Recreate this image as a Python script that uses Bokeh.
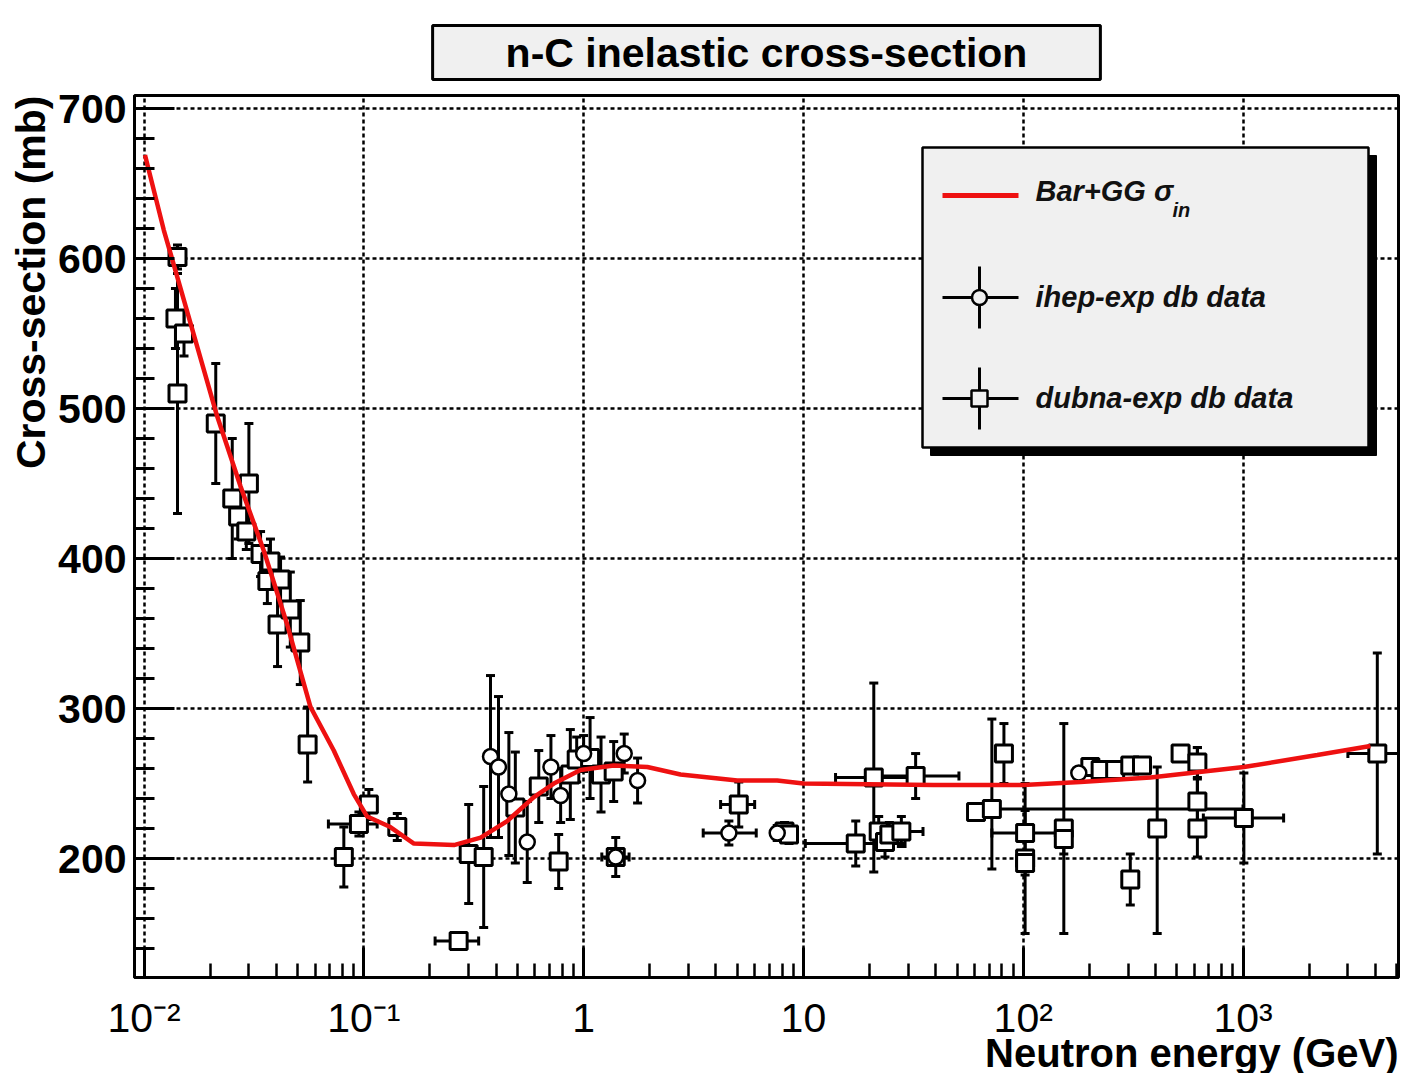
import math

from bokeh.embed import file_html
from bokeh.models import FixedTicker, Label, Range1d, SingleIntervalTicker, Title
from bokeh.plotting import figure
from bokeh.resources import INLINE

# ---------------------------------------------------------------- data
# Bar+GG inelastic n-C cross-section (energy in GeV, sigma in mb)
curve_energy = [0.0101, 0.0123, 0.0139, 0.0215, 0.0275, 0.0351, 0.0448, 0.0572, 0.073, 0.090,
                0.1036, 0.132, 0.169, 0.257, 0.340, 0.449, 0.594, 0.732, 0.968, 1.37,
                1.95, 2.76, 5.0, 7.6, 10.0, 39.0, 100.0, 182.0, 379.0, 1009.0, 2177.0, 3800.0]
curve_sigma = [669, 619, 592, 495, 448, 405, 356, 301, 272, 243,
               228, 221, 210, 209, 214, 225, 241, 250, 259, 262,
               261, 256, 252, 252, 250, 249, 249, 251, 254, 261, 269, 275]

# ihep-exp database points
ihep_energy = [0.377, 0.41, 0.457, 0.554, 0.71, 0.786, 1.0, 1.53, 1.76, 1.40, 4.58, 7.6, 179.0]
ihep_sigma = [268, 261, 243, 211, 261, 242, 270, 270, 252, 201, 217, 217, 257]
ihep_err_down = [54, 47, 41, 27, 21, 18, 12, 13, 15, 0, 8, 5, 0]
ihep_err_up = [54, 47, 41, 27, 21, 18, 12, 13, 15, 0, 8, 5, 0]
# energy bins (horizontal bars): point index, low edge, high edge
ihep_bin_index = [10]
ihep_bin_lo = [3.5]
ihep_bin_hi = [6.1]

# dubna-exp database points
dubna_energy = [0.0142, 0.0139, 0.0152, 0.0142, 0.0212, 0.0252, 0.0300, 0.0268, 0.0292, 0.0339,
                0.0376, 0.0364, 0.0418, 0.0405, 0.0463, 0.0514, 0.0555, 0.0811, 0.0950, 0.1054,
                0.142, 0.300, 0.270, 0.351, 0.489, 0.625, 0.770, 0.87, 0.93, 1.07,
                1.20, 1.37, 1.40, 5.08, 8.2, 8.6, 17.3, 20.9, 32.4, 22.0,
                23.5, 24.6, 27.9, 61.0, 72.0, 81.7, 102.0, 102.0, 102.0, 153.0,
                153.0, 202.0, 225.0, 262.0, 307.0, 347.0, 307.0, 407.0, 520.0, 620.0,
                620.0, 620.0, 1009.0, 4083.0]
dubna_sigma = [601, 560, 550, 510, 490, 440, 450, 428, 418, 403,
               398, 385, 386, 356, 366, 344, 276, 201, 223, 236,
               221, 203, 145, 201, 234, 248, 198, 256, 266, 267,
               256, 258, 201, 236, 218, 216, 210, 254, 255, 218,
               211, 216, 218, 231, 233, 270, 217, 200, 197, 220,
               213, 261, 259, 259, 262, 262, 186, 220, 270, 264,
               238, 220, 227, 270]
dubna_err_down = [8, 20, 15, 80, 40, 40, 40, 15, 12, 15,
                  15, 15, 15, 28, 25, 28, 25, 20, 8, 10,
                  9, 33, 4, 47, 37, 24, 18, 30, 15, 27,
                  25, 20, 13, 15, 6, 6, 15, 63, 15, 10,
                  10, 8, 10, 0, 40, 20, 15, 50, 8, 70,
                  10, 4, 4, 0, 0, 0, 17, 70, 0, 10,
                  15, 19, 30, 67]
dubna_err_up = [8, 20, 15, 80, 40, 40, 40, 15, 12, 15,
                15, 15, 15, 28, 25, 28, 25, 20, 8, 10,
                9, 33, 4, 47, 37, 24, 18, 30, 15, 27,
                25, 20, 13, 15, 6, 6, 15, 63, 15, 10,
                10, 8, 10, 0, 60, 20, 15, 50, 8, 70,
                10, 4, 4, 0, 0, 0, 17, 41, 0, 10,
                15, 54, 30, 67]
dubna_bin_index = [18, 22, 32, 33, 36, 37, 38, 42, 44, 46, 62, 63]
dubna_bin_lo = [0.069, 0.211, 1.21, 4.2, 10.2, 14.0, 21.0, 21.0, 66.0, 72.0, 660.0, 3000.0]
dubna_bin_hi = [0.115, 0.333, 1.61, 6.0, 29.0, 31.0, 51.0, 35.0, 1000.0, 153.0, 1530.0, 6000.0]

x_tick_values = [0.01, 0.1, 1, 10, 100, 1000]
x_tick_labels = ["10\u207b\u00b2", "10\u207b\u00b9", "1", "10", "10\u00b2", "10\u00b3"]

# ---------------------------------------------------------------- layout
W, H = 1404, 1073
FL, FR, FT, FB = 134, 1398, 95, 977          # plot frame edges (px)
X_MIN, X_MAX = 0.00905, 5098.0
Y_MIN, Y_MAX = 120.7, 708.7

LX0, LX1 = math.log10(X_MIN), math.log10(X_MAX)


def xd(px):
    """canvas x pixel -> energy"""
    return 10 ** (LX0 + (px - FL) / (FR - FL) * (LX1 - LX0))


def yd(py):
    """canvas y pixel -> cross-section"""
    return Y_MAX - (py - FT) / (FB - FT) * (Y_MAX - Y_MIN)


SANS = "Liberation Sans"
RED = "#ee1111"

p = figure(width=W, height=H, x_axis_type="log",
           x_range=Range1d(X_MIN, X_MAX), y_range=Range1d(Y_MIN, Y_MAX),
           output_backend="svg", toolbar_location=None,
           min_border_left=FL, min_border_right=W - FR,
           min_border_top=FT, min_border_bottom=H - FB)
p.background_fill_color = "white"
p.border_fill_color = "white"
p.outline_line_color = "black"
p.outline_line_width = 3

# title in a framed box
p.title.text = "n-C inelastic cross-section"
p.title.align = "center"
p.title.offset = -5
p.title.standoff = 32
p.title.text_font = SANS
p.title.text_font_style = "bold"
p.title.text_font_size = "41px"
p.title.text_color = "black"
p.title.background_fill_color = "#f0f0f0"
p.title.border_line_color = "black"
p.title.border_line_width = 3
p.title.padding = dict(left=73, right=73, top=4, bottom=4)

# axes
minor = [m * 10 ** k for k in range(-3, 4) for m in range(2, 10) if X_MIN < m * 10 ** k < X_MAX]
p.xaxis.ticker = FixedTicker(ticks=x_tick_values, minor_ticks=minor)
p.xaxis.major_label_overrides = dict(zip(x_tick_values, x_tick_labels))
p.xaxis.major_label_text_font = SANS
p.xaxis.major_label_text_font_size = "41px"
p.xaxis.major_label_text_color = "black"
p.xaxis.major_label_standoff = 17
p.xaxis.axis_line_width = 3
p.xaxis.major_tick_in = 30
p.xaxis.major_tick_out = 0
p.xaxis.minor_tick_in = 14
p.xaxis.minor_tick_out = 0
p.xaxis.major_tick_line_width = 3
p.xaxis.minor_tick_line_width = 2.5

p.yaxis.ticker = SingleIntervalTicker(interval=100, num_minor_ticks=5)
p.yaxis.axis_line_width = 3
p.yaxis.major_tick_in = 40
p.yaxis.major_tick_out = 0
p.yaxis.minor_tick_in = 20
p.yaxis.minor_tick_out = 0
p.yaxis.major_tick_line_width = 3
p.yaxis.minor_tick_line_width = 3
p.yaxis.major_label_text_font = SANS
p.yaxis.major_label_text_font_style = "bold"
p.yaxis.major_label_text_font_size = "41px"
p.yaxis.major_label_text_color = "black"
p.yaxis.major_label_standoff = 8

# axis titles, pushed to the far end of each axis
p.add_layout(Title(text="Neutron energy (GeV)", align="right", standoff=-30,
                   text_font=SANS, text_font_style="bold", text_font_size="40px",
                   text_color="black"), "below")
p.add_layout(Title(text="Cross-section (mb)", align="right", standoff=4,
                   text_font=SANS, text_font_style="bold", text_font_size="41px",
                   text_color="black"), "left")

for g in (p.xgrid, p.ygrid):
    g.grid_line_color = "black"
    g.grid_line_width = 2.5
    g.grid_line_dash = "4 3"


# ---------------------------------------------------------------- data marks
def error_bars(energy, sigma, down, up, bin_index, bin_lo, bin_hi):
    keep = [i for i in range(len(energy)) if down[i] or up[i]]
    ex = [energy[i] for i in keep]
    lo = [sigma[i] - down[i] for i in keep]
    hi = [sigma[i] + up[i] for i in keep]
    p.segment(x0=ex, y0=lo, x1=ex, y1=hi, line_color="black", line_width=3)
    p.scatter(x=ex + ex, y=lo + hi, marker="dash", size=9, line_color="black", line_width=3)
    hy = [sigma[i] for i in bin_index]
    p.segment(x0=bin_lo, y0=hy, x1=bin_hi, y1=hy, line_color="black", line_width=3)
    p.scatter(x=bin_lo + bin_hi, y=hy + hy, marker="dash", angle=math.pi / 2, size=9,
              line_color="black", line_width=3)


error_bars(dubna_energy, dubna_sigma, dubna_err_down, dubna_err_up,
           dubna_bin_index, dubna_bin_lo, dubna_bin_hi)
error_bars(ihep_energy, ihep_sigma, ihep_err_down, ihep_err_up,
           ihep_bin_index, ihep_bin_lo, ihep_bin_hi)

p.scatter(x=dubna_energy, y=dubna_sigma, marker="square", size=17,
          fill_color="white", line_color="black", line_width=3)
p.scatter(x=ihep_energy, y=ihep_sigma, marker="circle", size=15,
          fill_color="white", line_color="black", line_width=2.5)

p.line(curve_energy, curve_sigma, line_color=RED, line_width=4.5)

# ---------------------------------------------------------------- legend box
p.quad(left=xd(930), right=xd(1376), top=yd(155), bottom=yd(455),
       fill_color="black", line_color="black")
p.quad(left=xd(922), right=xd(1368), top=yd(147), bottom=yd(447),
       fill_color="#f0f0f0", line_color="black", line_width=2.5)

p.line([xd(942), xd(1018)], [yd(195), yd(195)], line_color=RED, line_width=5)
for cy, mk, sz in ((297, "circle", 15), (398, "square", 16)):
    p.segment(x0=xd(942), y0=yd(cy), x1=xd(1018), y1=yd(cy), line_color="black", line_width=3)
    p.segment(x0=xd(979), y0=yd(cy - 31), x1=xd(979), y1=yd(cy + 31), line_color="black", line_width=3)
    p.scatter(x=[xd(979)], y=[yd(cy)], marker=mk, size=sz, fill_color="#f0f0f0",
              line_color="black", line_width=2.5)

legend_font = dict(text_font=SANS, text_font_style="bold italic", text_color="#111111")
p.add_layout(Label(x=xd(1035), y=yd(190), text="Bar+GG σ", text_font_size="29px",
                   text_baseline="middle", **legend_font))
p.add_layout(Label(x=xd(1172), y=yd(209), text="in", text_font_size="20px",
                   text_baseline="middle", **legend_font))
p.add_layout(Label(x=xd(1035), y=yd(296), text="ihep-exp db data", text_font_size="29px",
                   text_baseline="middle", **legend_font))
p.add_layout(Label(x=xd(1035), y=yd(397), text="dubna-exp db data", text_font_size="29px",
                   text_baseline="middle", **legend_font))

open("out.html", "w").write(file_html(p, INLINE))
